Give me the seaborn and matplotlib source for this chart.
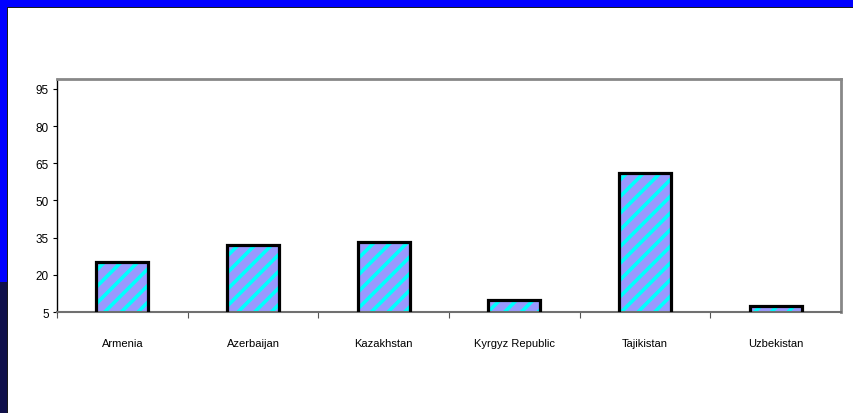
import matplotlib
matplotlib.use("Agg")
import matplotlib.pyplot as plt
from matplotlib.patches import Rectangle
import pandas as pd
import seaborn as sns

# data
countries = ["Armenia", "Azerbaijan", "Kazakhstan", "Kyrgyz Republic", "Tajikistan", "Uzbekistan"]
values = [25.2, 32.0, 33.2, 9.8, 61.0, 7.4]
y_ticks = [5, 20, 35, 50, 65, 80, 95]

df = pd.DataFrame({"country": countries, "value": values})

sns.set_style("white")
plt.rcParams["font.family"] = ["Liberation Sans Narrow", "Liberation Sans", "DejaVu Sans"]
plt.rcParams["hatch.linewidth"] = 2.6
plt.rcParams["xtick.labelcolor"] = "black"
plt.rcParams["ytick.labelcolor"] = "black"

fig = plt.figure(figsize=(8.54, 4.14), dpi=100)
fig.patch.set_facecolor("white")

# slide frame: blue band on top and left, navy at lower left, thin dark shadow inside
W, H = 854, 414
fig.patches.append(Rectangle((0, 1 - 7.5 / H), 1, 7.5 / H, transform=fig.transFigure,
                             facecolor="#0000FF", edgecolor="none", zorder=0))
fig.patches.append(Rectangle((0, 0), 7 / W, 1, transform=fig.transFigure,
                             facecolor="#0000FF", edgecolor="none", zorder=0))
fig.patches.append(Rectangle((0, 0), 7 / W, 1 - 283 / H, transform=fig.transFigure,
                             facecolor="#10104A", edgecolor="none", zorder=0))
fig.patches.append(Rectangle((7 / W, 1 - 8.5 / H), 1, 1 / H, transform=fig.transFigure,
                             facecolor="#1a1a1a", edgecolor="none", zorder=0))
fig.patches.append(Rectangle((7 / W, 0), 1 / W, 1 - 7.5 / H, transform=fig.transFigure,
                             facecolor="#1a1a1a", edgecolor="none", zorder=0))

ax = fig.add_axes([57 / W, 1 - 313 / H, (841 - 57) / W, (313 - 80) / H])

sns.barplot(data=df, x="country", y="value", color="#9999FF", width=0.4,
            hatch="//", edgecolor="#00FFFF", linewidth=0, saturation=1, ax=ax)

# black outline on top of the hatched bars
for p in list(ax.patches):
    ax.add_patch(Rectangle(p.get_xy(), p.get_width(), p.get_height(), fill=False,
                           edgecolor="black", linewidth=2.3, zorder=3))

ax.set_ylim(5, 99)
ax.set_xlim(-0.5, len(countries) - 0.5)
ax.set_yticks(y_ticks)
ax.set_xlabel("")
ax.set_ylabel("")

ax.spines["left"].set_color("black")
ax.spines["left"].set_linewidth(1.0)
ax.spines["bottom"].set_color("#707070")
ax.spines["bottom"].set_linewidth(1.5)
for s in ["top", "right"]:
    ax.spines[s].set_color("#888888")
    ax.spines[s].set_linewidth(2.0)

ax.tick_params(axis="y", left=True, length=3, width=0.8, color="black",
               labelsize=8.5, pad=3, labelcolor="black")
ax.tick_params(axis="x", which="major", bottom=True, length=0, labelsize=8, pad=19,
               labelcolor="black")
ax.set_xticks([i + 0.5 for i in range(len(countries) - 1)] + [-0.5], minor=True)
ax.tick_params(axis="x", which="minor", bottom=True, length=4, width=0.8, color="#555555")

fig.savefig("out.png", dpi=100)
